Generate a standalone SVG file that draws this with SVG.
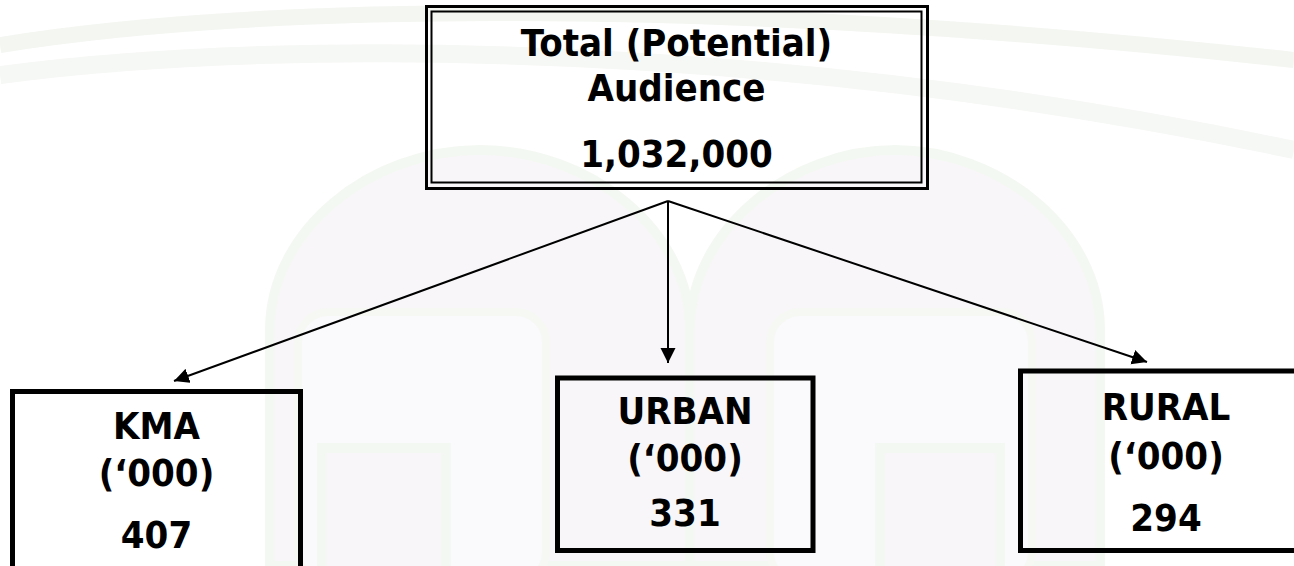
<svg xmlns="http://www.w3.org/2000/svg" width="1294" height="566" viewBox="0 0 1294 566">
  <style>
    .t { font-family: "DejaVu Sans Condensed", "DejaVu Sans", "Liberation Sans", sans-serif; font-weight: bold; font-stretch: condensed; font-size: 38px; fill: #000; text-anchor: middle; }
    .box { fill: none; stroke: #000; stroke-width: 5; }
    .conn { fill: none; stroke: #000; stroke-width: 2; }
    .arch { fill: #f8f6f9; stroke: #f4f8f2; stroke-width: 10; }
    .arch2 { fill: #faf9fb; stroke: #f5f8f3; stroke-width: 8; }
  </style>
  <defs>
    <marker id="ah" markerUnits="userSpaceOnUse" markerWidth="16" markerHeight="16" viewBox="0 0 16 16" refX="15" refY="8" orient="auto">
      <path d="M0,0.5 L15,8 L0,15.5 Z" fill="#000"/>
    </marker>
  </defs>

  <!-- background -->
  <g id="background">
    <rect x="0" y="0" width="1294" height="566" fill="#ffffff"/>
    <path d="M0,45 C250,5 700,-5 1294,60" fill="none" stroke="#f3f6f1" stroke-width="16"/>
    <path d="M0,75 C300,35 800,45 1294,150" fill="none" stroke="#f6f8f5" stroke-width="18"/>
    <path d="M270,566 L270,330 C270,230 370,150 480,150 C590,150 690,230 690,330 L690,566 Z" class="arch"/>
    <path d="M690,566 L690,330 C690,230 790,150 895,150 C1000,150 1100,230 1100,330 L1100,566 Z" class="arch"/>
    <rect x="298" y="312" width="248" height="270" rx="30" class="arch2"/>
    <rect x="770" y="312" width="262" height="270" rx="30" class="arch2"/>
    <rect x="322" y="448" width="124" height="130" class="arch"/>
    <rect x="880" y="448" width="120" height="130" class="arch"/>
  </g>

  <!-- connectors -->
  <g id="connectors">
    <line x1="668" y1="201" x2="668" y2="363" class="conn" marker-end="url(#ah)"/>
    <line x1="668" y1="201" x2="174" y2="381" class="conn" marker-end="url(#ah)"/>
    <line x1="668" y1="201" x2="1147" y2="362" class="conn" marker-end="url(#ah)"/>
  </g>

  <!-- nodes -->
  <g id="node-total">
    <rect x="426.5" y="6.5" width="501" height="182" fill="none" stroke="#000" stroke-width="3"/>
    <rect x="431.5" y="11.5" width="490" height="171" fill="none" stroke="#000" stroke-width="2"/>
    <text class="t" x="676.5" y="56">Total (Potential)</text>
    <text class="t" x="676.5" y="101">Audience</text>
    <text class="t" x="676.5" y="167">1,032,000</text>
  </g>

  <g id="node-kma">
    <rect x="12.5" y="391.5" width="288" height="220" class="box"/>
    <text class="t" x="156.5" y="439">KMA</text>
    <text class="t" x="156.5" y="486">(‘000)</text>
    <text class="t" x="156.5" y="548">407</text>
  </g>

  <g id="node-urban">
    <rect x="557.5" y="378" width="255.5" height="172.5" class="box"/>
    <text class="t" x="685" y="424">URBAN</text>
    <text class="t" x="685" y="471">(‘000)</text>
    <text class="t" x="685" y="526">331</text>
  </g>

  <g id="node-rural">
    <rect x="1020.5" y="371" width="292" height="179.5" class="box"/>
    <text class="t" x="1166" y="420">RURAL</text>
    <text class="t" x="1166" y="469">(‘000)</text>
    <text class="t" x="1166" y="531">294</text>
  </g>
</svg>
